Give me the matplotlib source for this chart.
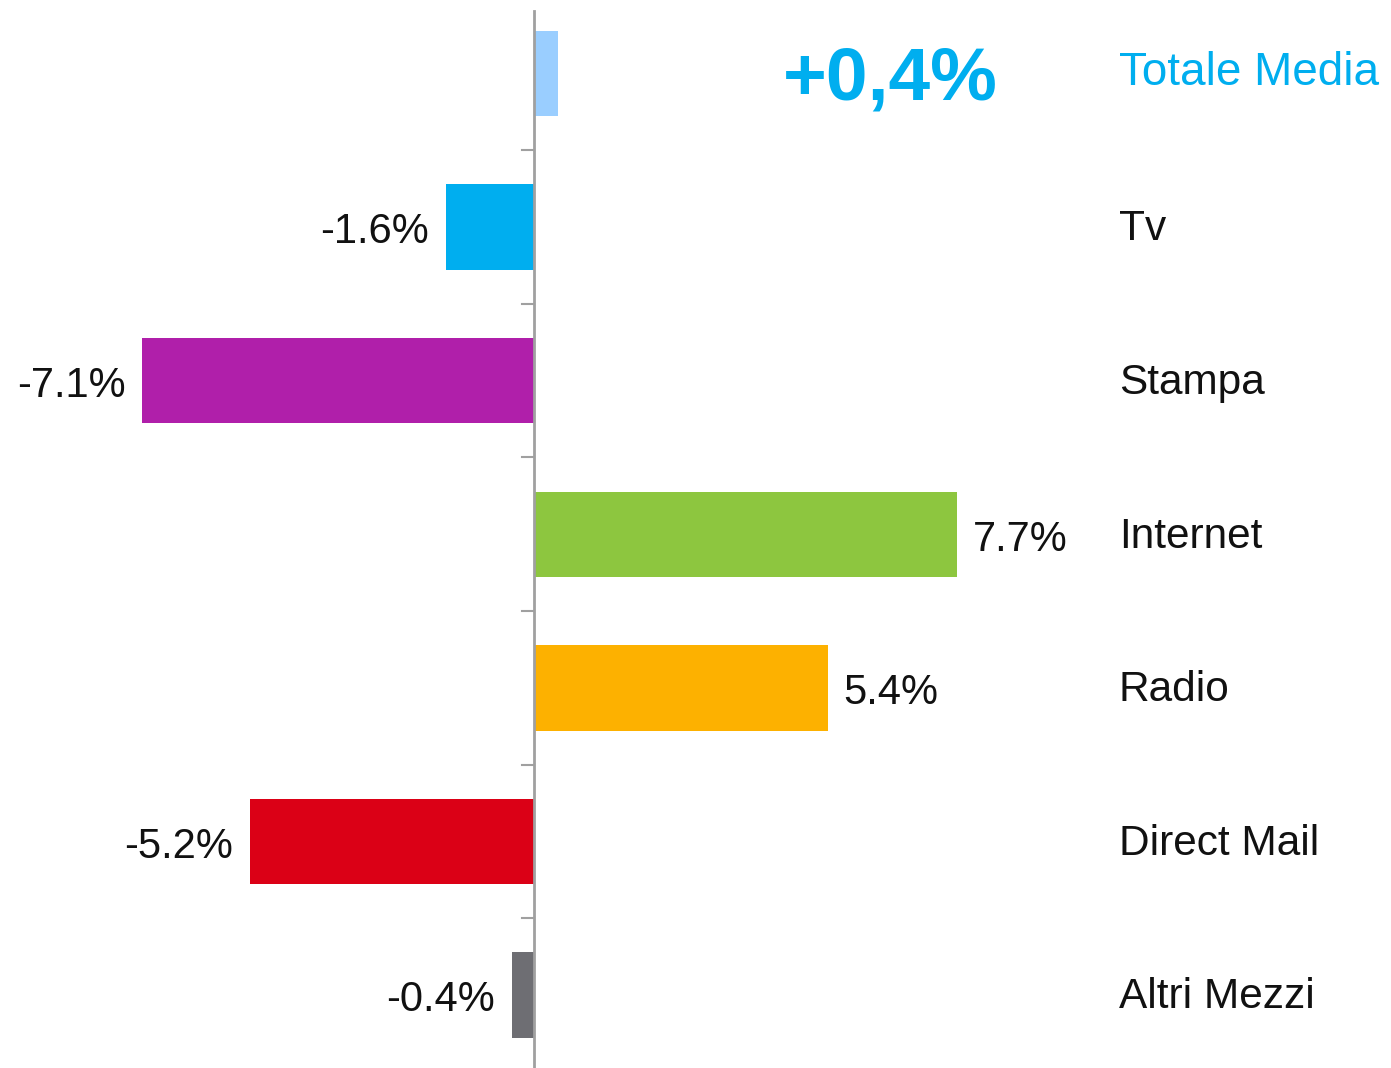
import matplotlib
matplotlib.use('Agg')
import matplotlib.pyplot as plt

plt.rcParams['font.family'] = ['Liberation Sans', 'DejaVu Sans']

categories = ['Totale Media', 'Tv', 'Stampa', 'Internet', 'Radio', 'Direct Mail', 'Altri Mezzi']
values = [0.45, -1.6, -7.12, 7.7, 5.35, -5.16, -0.4]
value_labels = ['', '-1.6%', '-7.1%', '7.7%', '5.4%', '-5.2%', '-0.4%']
colors = ['#9ACEFF', '#00AEEF', '#B01FAA', '#8DC63F', '#FDB100', '#DB0016', '#6E6E73']
total_label = '+0,4%'

W, H = 1391, 1068
fig = plt.figure(figsize=(W / 100, H / 100), dpi=100)
ax = fig.add_axes([0, 0, 1, 1])

# pixel layout -> data limits
x0_px, px_per_pct = 533.5, 55.0
row0_px, row_px = 73.5, 153.6
ax.set_xlim(-x0_px / px_per_pct, (W - x0_px) / px_per_pct)
ax.set_ylim((H - row0_px) / row_px, -row0_px / row_px)
ax.axis('off')

rows = list(range(len(categories)))
ax.barh(rows, values, height=0.555, color=colors, zorder=2)

# zero axis and separator ticks
ax.plot([0, 0], [(11 - row0_px) / row_px, (H - row0_px) / row_px], color='#A0A0A0', lw=2, zorder=3)
for i in range(len(categories) - 1):
    ax.plot([-12 / px_per_pct, 0], [i + 0.5, i + 0.5], color='#A0A0A0', lw=1.5, zorder=3)

dy = 0.035
for i, (v, lab) in enumerate(zip(values, value_labels)):
    if not lab:
        continue
    if v < 0:
        ax.text(v - 0.3, i + dy, lab, ha='right', va='center', fontsize=30, color='#111111')
    else:
        ax.text(v + 0.28, i + dy, lab, ha='left', va='center', fontsize=30, color='#111111')

lab_x = (1119 - x0_px) / px_per_pct
for i, c in enumerate(categories):
    if i == 0:
        ax.text(lab_x, i - 0.005, c, ha='left', va='center', fontsize=33, color='#00AEEF')
    else:
        ax.text(lab_x, i + dy - 0.02, c, ha='left', va='center', fontsize=30.5, color='#111111')

ax.text((890 - x0_px) / px_per_pct, 0.04, total_label, ha='center', va='center',
        fontsize=54, fontweight='bold', color='#00AEEF')

fig.savefig('out.png', dpi=100)
